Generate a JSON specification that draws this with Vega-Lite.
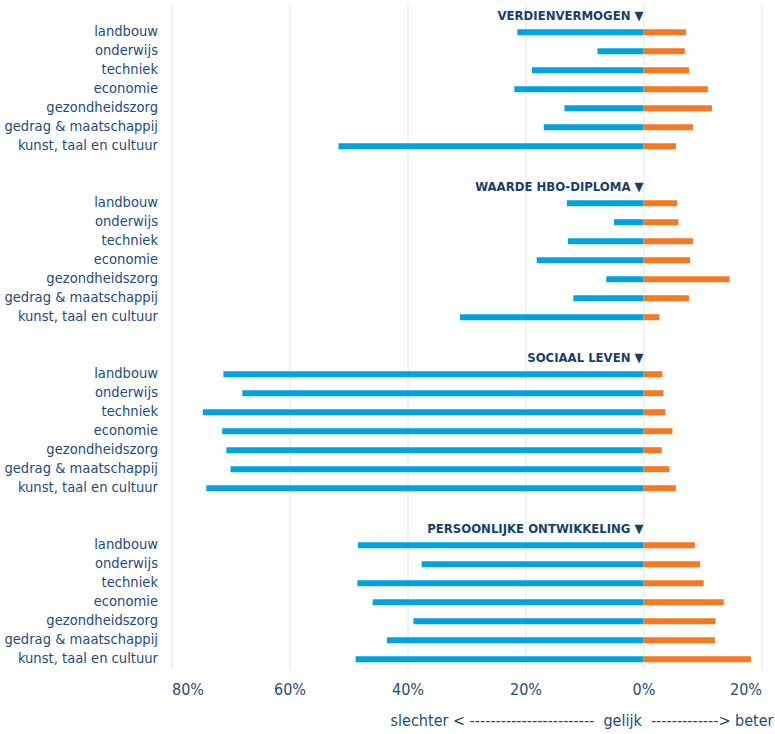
{
  "$schema": "https://vega.github.io/schema/vega-lite/v6.json",
  "width": 590,
  "height": 665,
  "autosize": {"type": "none"},
  "padding": {"left": 171.5, "top": 3.7, "right": 13.5, "bottom": 65.3},
  "background": "white",
  "datasets": {
    "bars": [
      {"key": "1|landbouw", "type": "slechter", "value": -21.4},
      {"key": "1|landbouw", "type": "beter", "value": 7.2},
      {"key": "1|onderwijs", "type": "slechter", "value": -7.8},
      {"key": "1|onderwijs", "type": "beter", "value": 7.0},
      {"key": "1|techniek\u00a0", "type": "slechter", "value": -18.9},
      {"key": "1|techniek\u00a0", "type": "beter", "value": 7.7},
      {"key": "1|economie", "type": "slechter", "value": -21.9},
      {"key": "1|economie", "type": "beter", "value": 10.9},
      {"key": "1|gezondheidszorg", "type": "slechter", "value": -13.4},
      {"key": "1|gezondheidszorg", "type": "beter", "value": 11.6},
      {"key": "1|gedrag & maatschappij", "type": "slechter", "value": -16.9},
      {"key": "1|gedrag & maatschappij", "type": "beter", "value": 8.4},
      {"key": "1|kunst, taal en cultuur", "type": "slechter", "value": -51.7},
      {"key": "1|kunst, taal en cultuur", "type": "beter", "value": 5.5},
      {"key": "2|landbouw", "type": "slechter", "value": -13.0},
      {"key": "2|landbouw", "type": "beter", "value": 5.7},
      {"key": "2|onderwijs", "type": "slechter", "value": -5.0},
      {"key": "2|onderwijs", "type": "beter", "value": 5.9},
      {"key": "2|techniek\u00a0", "type": "slechter", "value": -12.8},
      {"key": "2|techniek\u00a0", "type": "beter", "value": 8.4},
      {"key": "2|economie", "type": "slechter", "value": -18.1},
      {"key": "2|economie", "type": "beter", "value": 7.9},
      {"key": "2|gezondheidszorg", "type": "slechter", "value": -6.3},
      {"key": "2|gezondheidszorg", "type": "beter", "value": 14.6},
      {"key": "2|gedrag & maatschappij", "type": "slechter", "value": -11.9},
      {"key": "2|gedrag & maatschappij", "type": "beter", "value": 7.7},
      {"key": "2|kunst, taal en cultuur", "type": "slechter", "value": -31.1},
      {"key": "2|kunst, taal en cultuur", "type": "beter", "value": 2.7},
      {"key": "3|landbouw", "type": "slechter", "value": -71.2},
      {"key": "3|landbouw", "type": "beter", "value": 3.2},
      {"key": "3|onderwijs", "type": "slechter", "value": -68.0},
      {"key": "3|onderwijs", "type": "beter", "value": 3.4},
      {"key": "3|techniek\u00a0", "type": "slechter", "value": -74.7},
      {"key": "3|techniek\u00a0", "type": "beter", "value": 3.7},
      {"key": "3|economie", "type": "slechter", "value": -71.4},
      {"key": "3|economie", "type": "beter", "value": 4.9},
      {"key": "3|gezondheidszorg", "type": "slechter", "value": -70.7},
      {"key": "3|gezondheidszorg", "type": "beter", "value": 3.1},
      {"key": "3|gedrag & maatschappij", "type": "slechter", "value": -70.0},
      {"key": "3|gedrag & maatschappij", "type": "beter", "value": 4.4},
      {"key": "3|kunst, taal en cultuur", "type": "slechter", "value": -74.1},
      {"key": "3|kunst, taal en cultuur", "type": "beter", "value": 5.5},
      {"key": "4|landbouw", "type": "slechter", "value": -48.4},
      {"key": "4|landbouw", "type": "beter", "value": 8.7},
      {"key": "4|onderwijs", "type": "slechter", "value": -37.6},
      {"key": "4|onderwijs", "type": "beter", "value": 9.6},
      {"key": "4|techniek\u00a0", "type": "slechter", "value": -48.5},
      {"key": "4|techniek\u00a0", "type": "beter", "value": 10.2},
      {"key": "4|economie", "type": "slechter", "value": -45.9},
      {"key": "4|economie", "type": "beter", "value": 13.6},
      {"key": "4|gezondheidszorg", "type": "slechter", "value": -39.0},
      {"key": "4|gezondheidszorg", "type": "beter", "value": 12.2},
      {"key": "4|gedrag & maatschappij", "type": "slechter", "value": -43.5},
      {"key": "4|gedrag & maatschappij", "type": "beter", "value": 12.1},
      {"key": "4|kunst, taal en cultuur", "type": "slechter", "value": -48.8},
      {"key": "4|kunst, taal en cultuur", "type": "beter", "value": 18.2}
    ],
    "titles": [
      {"key": "1|", "title": "VERDIENVERMOGEN \u25bc"},
      {"key": "2|", "title": "WAARDE HBO-DIPLOMA \u25bc"},
      {"key": "3|", "title": "SOCIAAL LEVEN \u25bc"},
      {"key": "4|", "title": "PERSOONLIJKE ONTWIKKELING \u25bc"}
    ]
  },
  "encoding": {
    "y": {
      "field": "key",
      "type": "nominal",
      "scale": {
        "paddingInner": 0,
        "paddingOuter": 0,
        "domain": [
          "1|", "1|landbouw", "1|onderwijs", "1|techniek\u00a0", "1|economie", "1|gezondheidszorg", "1|gedrag & maatschappij", "1|kunst, taal en cultuur", "1| ",
          "2|", "2|landbouw", "2|onderwijs", "2|techniek\u00a0", "2|economie", "2|gezondheidszorg", "2|gedrag & maatschappij", "2|kunst, taal en cultuur", "2| ",
          "3|", "3|landbouw", "3|onderwijs", "3|techniek\u00a0", "3|economie", "3|gezondheidszorg", "3|gedrag & maatschappij", "3|kunst, taal en cultuur", "3| ",
          "4|", "4|landbouw", "4|onderwijs", "4|techniek\u00a0", "4|economie", "4|gezondheidszorg", "4|gedrag & maatschappij", "4|kunst, taal en cultuur"
        ]
      },
      "axis": {
        "title": null,
        "domain": false,
        "ticks": false,
        "grid": false,
        "labelPadding": 14,
        "labelFontSize": 14.6,
        "labelColor": "#1d4b7d",
        "labelBaseline": "middle",
        "labelExpr": "split(datum.value, '|')[1]"
      }
    }
  },
  "layer": [
    {
      "data": {"name": "bars"},
      "mark": {"type": "bar", "size": 6},
      "encoding": {
        "x": {
          "field": "value",
          "type": "quantitative",
          "scale": {"domain": [-80, 20], "nice": false},
          "axis": {
            "values": [-80, -60, -40, -20, 0, 20],
            "labelExpr": "abs(datum.value) + '%'",
            "domain": false,
            "ticks": false,
            "grid": true,
            "gridColor": "#dfe5ec",
            "gridWidth": 1,
            "labelPadding": 13,
            "labelFontSize": 16,
            "labelColor": "#1d4b7d",
            "labelDx": -4,
            "title": "slechter < ------------------------ \u00a0gelijk\u00a0 -------------> beter",
            "titleFontSize": 16,
            "titleFontWeight": "normal",
            "titleColor": "#1d4b7d",
            "titleAnchor": "end",
            "titleAlign": "right",
            "titleX": 601.5,
            "titlePadding": 15
          }
        },
        "color": {
          "field": "type",
          "type": "nominal",
          "scale": {"domain": ["slechter", "beter"], "range": ["#00a3e0", "#f47920"]},
          "legend": null
        }
      }
    },
    {
      "data": {"name": "titles"},
      "mark": {"type": "text", "align": "right", "baseline": "middle", "dy": 3, "fontSize": 13, "fontWeight": "bold", "color": "#173f6b"},
      "encoding": {
        "x": {"datum": 0, "type": "quantitative"},
        "text": {"field": "title"}
      }
    }
  ],
  "config": {
    "font": "DejaVu Sans Condensed, Roboto, sans-serif",
    "view": {"stroke": null}
  }
}
